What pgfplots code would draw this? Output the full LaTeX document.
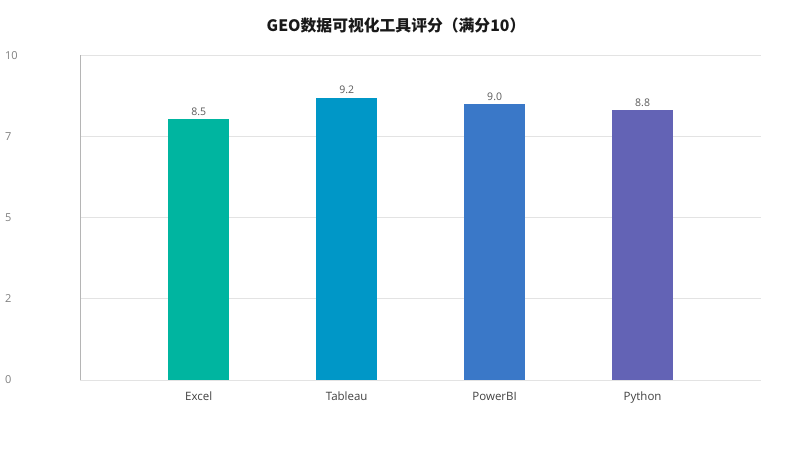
\documentclass[border=0pt]{standalone}
\usepackage{fontspec}
\setmainfont{Open Sans}
\newfontfamily\cjk{Noto Sans CJK SC}
\usepackage{pgfplots}
\pgfplotsset{compat=1.18}

\definecolor{cExcel}{HTML}{00B5A0}
\definecolor{cTableau}{HTML}{0097C7}
\definecolor{cPowerBI}{HTML}{3A78C8}
\definecolor{cPython}{HTML}{6363B5}
\definecolor{gridc}{HTML}{E3E3E3}
\definecolor{yaxisc}{HTML}{B5B5B5}
\definecolor{ticklab}{HTML}{7F7F7F}
\definecolor{catlab}{HTML}{404040}
\definecolor{vallab}{HTML}{595959}

\begin{document}
\begin{tikzpicture}[x=1pt,y=1pt]
\path[use as bounding box] (0,0) rectangle (800,450);
\node[text=black!90] at (396,424) {\cjk\bfseries\fontsize{15.8}{18}\selectfont GEO数据可视化工具评分（满分10）};
\begin{axis}[
  at={(80.3pt,70pt)}, anchor=south west,
  scale only axis, width=680.7pt, height=324.7pt,
  xmin=-0.8, xmax=3.8,
  ymin=0, ymax=10.58,
  ytick={0,2.645,5.29,7.935,10.58},
  yticklabels={0,2,5,7,10},
  xtick={0,1,2,3},
  xticklabels={Excel,Tableau,PowerBI,Python},
  major tick length=0pt,
  ymajorgrids=true,
  grid style={gridc, line width=0.8pt},
  axis lines*=left,
  x axis line style={gridc, line width=0.8pt},
  y axis line style={yaxisc, line width=0.8pt},
  yticklabel style={anchor=west, inner sep=0pt, xshift=-75.3pt, text=ticklab, font=\fontsize{11}{13}\selectfont},
  xticklabel style={anchor=base, inner sep=0pt, yshift=-20pt, text=catlab, font=\fontsize{11.5}{13}\selectfont},
  ybar, bar width=61pt, bar shift=0pt,
  nodes near coords,
  every node near coord/.append style={text=vallab, font=\fontsize{10.5}{12}\selectfont},
  nodes near coords style={/pgf/number format/.cd, fixed, fixed zerofill, precision=1, assume math mode=true},
  clip=false,
]
\addplot[fill=cExcel, draw=none] coordinates {(0,8.5)};
\addplot[fill=cTableau, draw=none] coordinates {(1,9.2)};
\addplot[fill=cPowerBI, draw=none] coordinates {(2,9.0)};
\addplot[fill=cPython, draw=none] coordinates {(3,8.8)};
\end{axis}
\end{tikzpicture}
\end{document}
